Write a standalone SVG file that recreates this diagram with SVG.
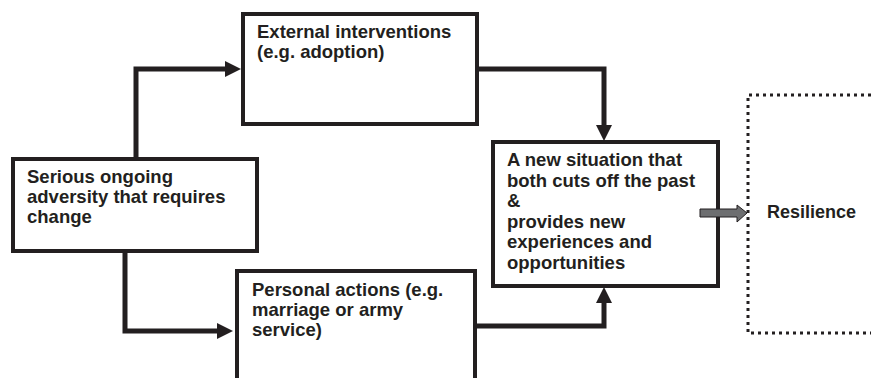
<svg xmlns="http://www.w3.org/2000/svg" width="871" height="378" viewBox="0 0 871 378">
<style>
.box{fill:#fff;stroke:#231f20;stroke-width:4}
.conn{fill:none;stroke:#231f20;stroke-width:5}
.t{font-family:"Liberation Sans",Arial,sans-serif;font-weight:bold;font-size:18.5px;fill:#231f20}
.dot{fill:none;stroke:#231f20;stroke-width:3;stroke-dasharray:3 4}
</style>
<defs>
<marker id="ah" viewBox="0 0 16 16" refX="1" refY="8" markerWidth="16" markerHeight="16" markerUnits="userSpaceOnUse" orient="auto">
<path d="M0,0 L16,8 L0,16 z" fill="#231f20"/>
</marker>
</defs>
<rect width="871" height="378" fill="#fff"/>
<g id="serious">
<rect class="box" x="13" y="159" width="244" height="92"/>
<text class="t" x="27" y="183">Serious ongoing</text>
<text class="t" x="27" y="203">adversity that requires</text>
<text class="t" x="27" y="223">change</text>
</g>
<g id="external">
<rect class="box" x="243" y="14" width="234" height="110"/>
<text class="t" x="257" y="38">External interventions</text>
<text class="t" x="257" y="58">(e.g. adoption)</text>
</g>
<g id="personal">
<rect class="box" x="237" y="271" width="238" height="130"/>
<text class="t" x="252" y="296">Personal actions (e.g.</text>
<text class="t" x="252" y="316">marriage or army</text>
<text class="t" x="252" y="336">service)</text>
</g>
<g id="newsituation">
<rect class="box" x="493" y="142" width="225" height="144"/>
<text class="t" x="507" y="166">A new situation that</text>
<text class="t" x="507" y="186.5">both cuts off the past</text>
<text class="t" x="507" y="207">&amp;</text>
<text class="t" x="507" y="227.5">provides new</text>
<text class="t" x="507" y="248">experiences and</text>
<text class="t" x="507" y="268.5">opportunities</text>
</g>
<g id="resilience">
<path class="dot" d="M871,95 H748 V333 H871"/>
<text class="t" x="767" y="218" style="font-size:18px">Resilience</text>
</g>
<g id="connectors">
<path class="conn" d="M136,157 V69 H226" marker-end="url(#ah)"/>
<path class="conn" d="M125,253 V331 H218" marker-end="url(#ah)"/>
<path class="conn" d="M477,69 H604 V126" marker-end="url(#ah)"/>
<path class="conn" d="M475,326 H604 V302" marker-end="url(#ah)"/>
<polygon points="700,209 737,209 737,205 747,213 737,222 737,217 700,217" fill="#6d6e70" stroke="#231f20" stroke-width="1"/>
</g>
</svg>
